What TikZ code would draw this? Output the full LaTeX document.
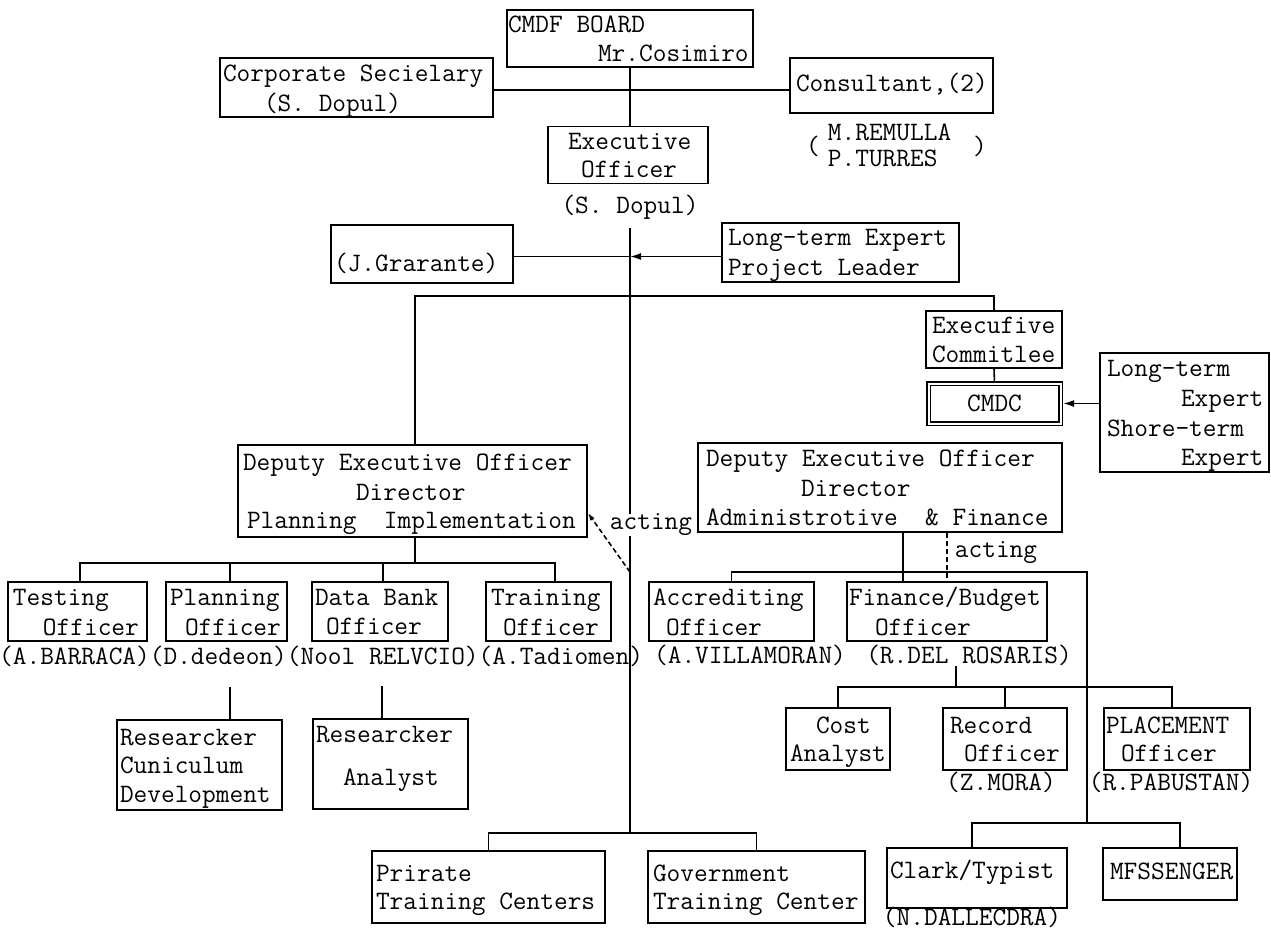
\documentclass[tikz,border=0pt]{standalone}
\usepackage{fontspec}
\usetikzlibrary{arrows.meta}
\newcommand\tw{\ttfamily\fontsize{26.6}{28.5}\selectfont}
\newcommand\s{\kern\fontcharwd\font`M\relax}
\newcommand\mystrut{\rule[-5.55pt]{0pt}{28.5pt}}
\newcommand\myl[2]{\mystrut\hspace*{#1pt}\mbox{#2}}
\newcommand\myo[2]{\strut\hspace*{#1pt}\mbox{#2}}
\newcommand\mybox[6]{%
  \pgfmathsetmacro\bxw{#4-#2}\pgfmathsetmacro\bxh{#5-#3}%
  \node[box, minimum width=\bxw pt, minimum height=\bxh pt, text width=\bxw pt] (#1) at ({(#2+#4)/2},{(#3+#5)/2}) {#6};}
\tikzset{
  box/.style={draw, line width=1.6pt, rectangle, inner sep=0pt, align=left, font=\tw},
  txt/.style={inner sep=0pt, font=\tw},
  ln/.style={line width=1.6pt},
  mainln/.style={line width=1.9pt},
  tip/.style={-{Latex[length=11pt,width=7pt]}},
  dsh/.style={dash pattern=on 5pt off 3pt}
}
\begin{document}
\begin{tikzpicture}[x=1pt,y=-1pt]
\fill[white] (0,0) rectangle (1271,930);
\useasboundingbox (0,0) rectangle (1271,930);

% ---- top level
\mybox{cmdf}{507}{12}{753}{65}{\myl{1}{CMDF\s BOARD}\\\myl{91}{Mr.Cosimiro}}
\mybox{corp}{220}{58}{493}{117}{\myl{3}{Corporate\s Secielary}\\\myl{44}{(S.\s Dopul)}}
\mybox{cons}{790}{58}{993}{113}{\myo{6}{Consultant,(2)}}
\mybox{exec}{548}{127}{708}{183}{\myl{20}{Executive}\\\myl{33}{Officer}}
\node[txt, anchor=west] (rem) at (806,148) {(\hspace{8pt}{\renewcommand\arraystretch{0.91}\begin{tabular}{@{}l@{}}M.REMULLA\\P.TURRES\end{tabular}}\hspace{22pt})};
\node[txt] (sdop) at (630,207) {(S.\s Dopul)};

% ---- second level
\mybox{jgr}{331}{225}{513}{283}{\strut\hspace*{3pt}\raisebox{-12pt}[0pt][0pt]{(J.Grarante)}}
\mybox{lte}{722}{223}{959}{282}{\myl{6}{Long-term\s Expert}\\\myl{6}{Project\s Leader}}
\mybox{exco}{926}{312}{1062}{367}{\myl{6}{Execufive}\\\myl{6}{Commitlee}}
\node[draw, double, double distance=2pt, line width=1.2pt, minimum width=132pt, minimum height=40pt, inner sep=0pt, font=\tw] (cmdc) at (994.5,403.5) {CMDC};
\mybox{lse}{1100}{353}{1269}{472}{\myl{7}{Long-term}\\\myl{81}{Expert}\\\myl{7}{Shore-term}\\\myl{81}{Expert}}

% ---- deputies
\mybox{dpl}{238}{445}{587}{537}{\myl{5}{Deputy\s Executive\s Officer}\\\myl{118}{Director}\\\myl{9}{Planning\s\s Implementation}}
\mybox{dpr}{698}{443}{1062}{532}{\myl{8}{Deputy\s Executive\s Officer}\\\myl{103}{Director}\\\myl{8}{Administrotive\s\s \&\s Finance}}
\node[txt] (actl) at (651,525) {acting};
\node[txt] (actr) at (996,553) {acting};

% ---- officers
\mybox{tst}{8}{582}{147}{641}{\myl{5}{Testing}\\\myl{35}{Officer}}
\mybox{pln}{166}{582}{287}{641}{\myl{4}{Planning}\\\myl{19}{Officer}}
\mybox{dbk}{312}{582}{448}{641}{\myl{3}{Data\s Bank}\\\myl{14}{Officer}}
\mybox{trn}{486}{582}{611}{641}{\myl{5}{Training}\\\myl{17}{Officer}}
\mybox{acc}{649}{582}{814}{641}{\myl{4}{Accrediting}\\\myl{17}{Officer}}
\mybox{fin}{847}{582}{1047}{641}{\myl{2}{Finance/Budget}\\\myl{28}{Officer}}
\node[txt, anchor=west] (names) at (-1,656) {(A.BARRACA)(D.dedeon)(Nool\s RELVCIO)(A.Tadiomen)};
\node[txt] (vil) at (750,655) {(A.VILLAMORAN)};
\node[txt] (ros) at (969,655) {(R.DEL\s ROSARIS)};

% ---- lower level
\mybox{cst}{786}{708}{890}{770}{\myl{30}{Cost}\\\myl{4}{Analyst}}
\mybox{rec}{943}{708}{1067}{770}{\myl{7}{Record}\\\myl{21}{Officer}}
\mybox{plc}{1104}{708}{1250}{770}{\myl{2}{PLACEMENT}\\\myl{17}{Officer}}
\node[txt] (mor) at (1001,782) {(Z.MORA)};
\node[txt] (pab) at (1171,782) {(R.PABUSTAN)};
\mybox{rcd}{117}{720}{282}{810}{\myl{3}{Researcker}\\\myl{3}{Cuniculum}\\\myl{3}{Development}}
\mybox{rna}{313}{720}{468}{808}{\myl{3}{Researcker}\\[14.5pt]\myl{30}{Analyst}\rule[-23.55pt]{0pt}{1pt}}
\mybox{pri}{372}{851}{605}{923}{\myl{4}{Prirate}\\\myl{4}{Training\s Centers}}
\mybox{gov}{648}{851}{865}{923}{\myl{5}{Government}\\\myl{5}{Training\s Center}}
\mybox{clk}{887}{848}{1067}{908}{\strut\hspace*{3pt}\raisebox{5pt}[0pt][0pt]{Clark/Typist}}
\mybox{msg}{1103}{848}{1237}{900}{\myo{7}{MFSSENGER}}
\node[txt] (dal) at (972,917) {(N.DALLECDRA)};

% ---- connectors
\coordinate (mtop) at (630,228);
\coordinate (mbot) at (630,833);
\coordinate (h1) at ([yshift=-2.5pt]corp.east);
\draw[ln] (h1) -- (h1 -| cons.west);
\draw[ln] (cmdf.south) -- (cmdf.south |- exec.north);
\draw[mainln] (mtop) -- (mtop |- actl.north);
\draw[mainln] (mtop |- actl.south) -- (mbot);

\coordinate (a1) at ([yshift=-4pt]lte.west);
\draw[ln, tip] (a1) -- (a1 -| mtop);
\draw[ln] (a1 -| mtop) -- (a1 -| jgr.east);

\coordinate (dplT) at ([xshift=2.5pt]dpl.north);
\draw[ln] (dplT) -- ++(0,-148) -| (exco.north);
\draw[ln] (exco.south) -- (cmdc.north);
\draw[ln, tip, shorten >=2pt] (lse.west |- cmdc.east) -- (cmdc.east);

\coordinate (lbar) at (415,563);
\draw[ln] ([xshift=2.5pt]dpl.south) -- (lbar);
\coordinate (t1) at ([xshift=2.5pt]tst.north);
\coordinate (t2) at ([xshift=3.5pt]pln.north);
\coordinate (t3) at ([xshift=3pt]dbk.north);
\coordinate (t4) at ([xshift=6.5pt]trn.north);
\draw[ln] (t1) |- (t4 |- lbar) -- (t4);
\draw[ln] (t2) -- (t2 |- lbar);
\draw[ln] (t3) -- (t3 |- lbar);

\coordinate (r1) at ([xshift=30.5pt]rcd.north);
\draw[ln] (r1) -- ++(0,-32);
\coordinate (r2) at ([xshift=-8.5pt]rna.north);
\draw[ln] (r2) -- ++(0,-32);

\coordinate (m572) at (630,572);
\draw[ln, dsh, -{Latex[length=8pt,width=5pt]}] (m572) -- ([yshift=25pt]dpl.south east);

\coordinate (d1) at ([xshift=23pt]dpr.south);
\draw[ln] (d1) -- (d1 |- fin.north);
\draw[ln, dsh] (fin.north |- dpr.south) -- (fin.north);
\coordinate (rbar) at (1087,572);
\coordinate (rbot) at (1087,823);
\draw[ln] (acc.north) |- (rbar) -- (rbot);
\coordinate (c1) at ([xshift=-5pt]clk.north);
\coordinate (c2) at ([xshift=10pt]msg.north);
\draw[ln] (c1) |- (c2 |- rbot) -- (c2);

\coordinate (fb) at (956,687);
\draw[ln] ([xshift=-13pt]ros.south) -- (fb);
\coordinate (p1) at ([xshift=-5pt]plc.north);
\draw[ln] (cst.north) |- (p1 |- fb) -- (p1);
\draw[ln] (rec.north) -- (rec.north |- fb);

\draw[ln] (pri.north) |- (gov.north |- mbot) -- (gov.north);
\end{tikzpicture}
\end{document}
